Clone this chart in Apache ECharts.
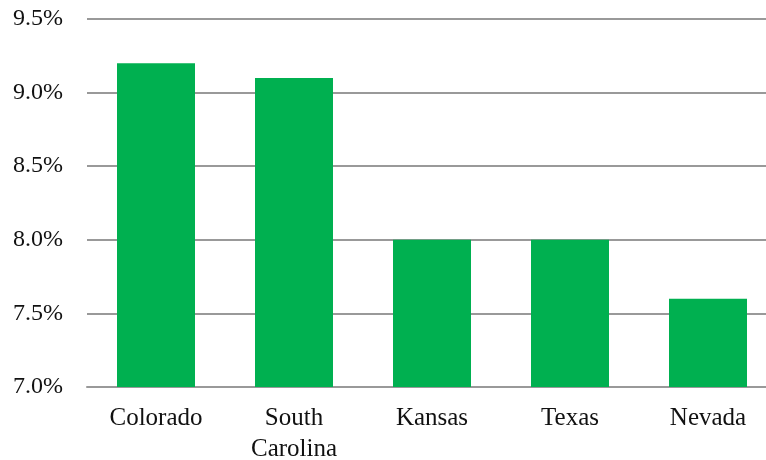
<!DOCTYPE html>
<html>
<head>
<meta charset="utf-8">
<script src="https://cdn.jsdelivr.net/npm/echarts@6/dist/echarts.min.js"></script>
<style>
  html, body { margin: 0; padding: 0; background: #fff; }
  #chart { width: 766px; height: 460px; }
</style>
</head>
<body>
<div id="chart"></div>
<script>
// State rates, in percent
const states = ['Colorado', 'South\nCarolina', 'Kansas', 'Texas', 'Nevada'];
const rates = [9.2, 9.1, 8.0, 8.0, 7.6];
const yMin = 7.0, yMax = 9.5, yStep = 0.5;

const font = '"Liberation Serif", "DejaVu Serif", serif';
const chart = echarts.init(document.getElementById('chart'));
chart.setOption({
  animation: false,
  grid: {
    left: 87, top: 19, width: 690, height: 368,
    containLabel: false, outerBoundsMode: 'none'
  },
  xAxis: {
    type: 'category',
    data: states,
    axisTick: { show: false },
    axisLine: { show: true, lineStyle: { color: '#999', width: 2 } },
    axisLabel: {
      color: '#111', fontFamily: font, fontSize: 25, margin: 16, lineHeight: 31,
      interval: 0
    }
  },
  yAxis: {
    type: 'value',
    min: yMin, max: yMax, interval: yStep,
    axisLine: { show: false },
    axisTick: { show: false },
    splitLine: { lineStyle: { color: '#999', width: 2 } },
    axisLabel: {
      color: '#111', fontFamily: font, fontSize: 24, margin: 24,
      padding: [3, 0, 0, 0],
      formatter: v => v.toFixed(1) + '%'
    }
  },
  series: [{
    type: 'bar',
    data: rates,
    barWidth: 78,
    itemStyle: { color: '#00B050' }
  }]
});
</script>
</body>
</html>
